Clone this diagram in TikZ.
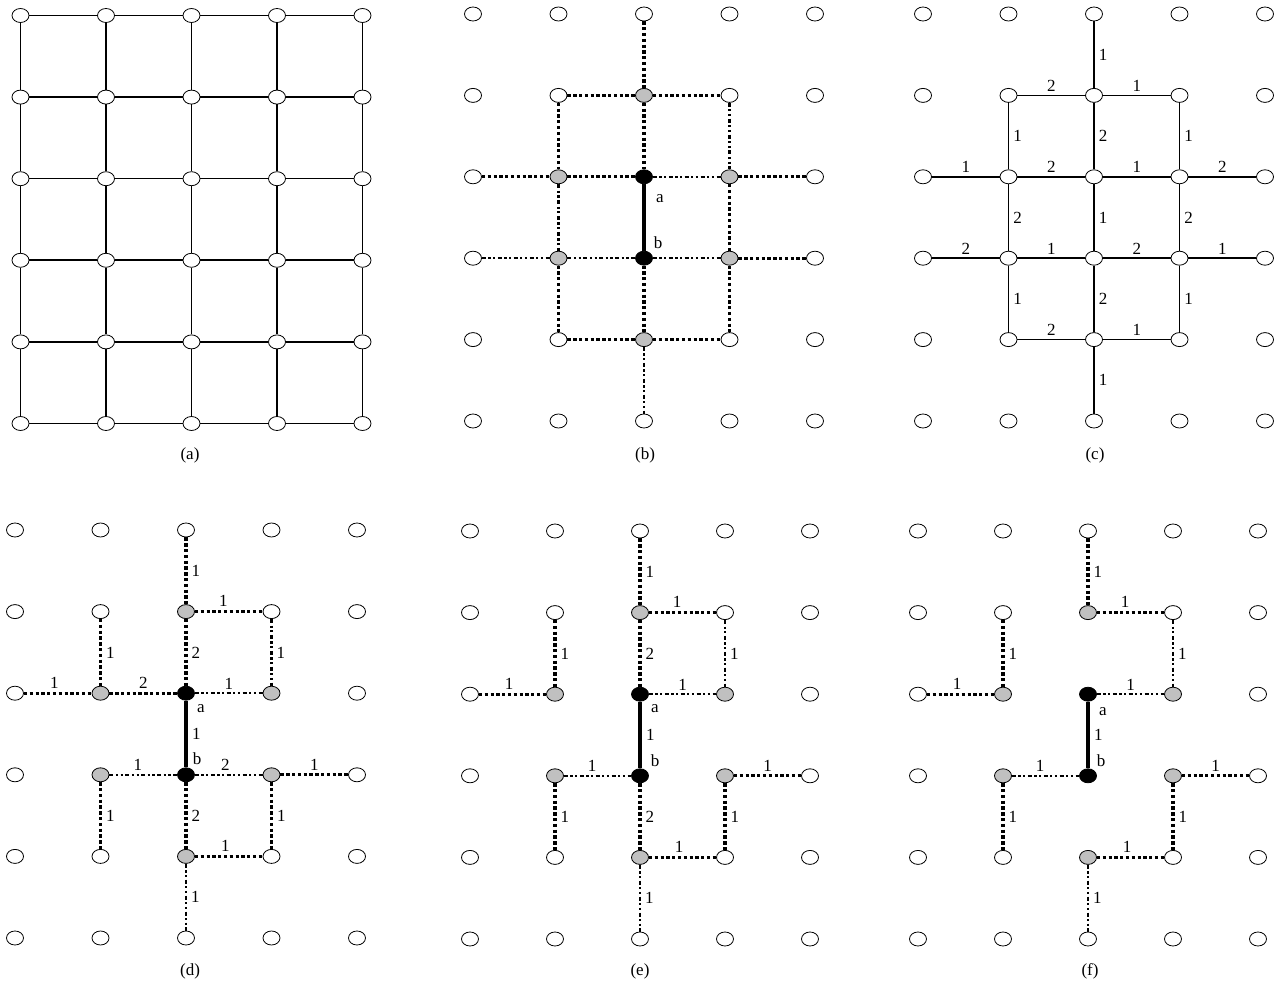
\documentclass[tikz,border=0pt]{standalone}
\usepackage{fontspec}
\setmainfont{Liberation Serif}
\usetikzlibrary{shapes.geometric,calc}
\definecolor{nodegray}{RGB}{192,192,192}
\tikzset{
  vtx/.style={ellipse, draw, line width=0.8pt, minimum width=17pt, minimum height=14pt, inner sep=0pt, fill=white},
  edge/.style={line width=1.6pt},
  thk/.style={line width=3.3pt, dash pattern=on 3.3pt off 2.5pt},
  thn/.style={line width=2.2pt, dash pattern=on 4pt off 2.5pt on 2.2pt off 2.5pt on 2.2pt off 2.5pt},
  ab/.style={line width=4pt},
  lbl/.style={font=\fontsize{17}{17}\selectfont, inner sep=1pt},
  hl/.style={lbl, midway, above=2pt},
  vl/.style={lbl, midway, right=3pt},
  gr/.style={fill=nodegray},
  bk/.style={fill=black},
  st-b-2-1/.style=gr, st-b-1-2/.style=gr, st-b-3-2/.style=gr, st-b-1-3/.style=gr, st-b-3-3/.style=gr, st-b-2-4/.style=gr,
  st-b-2-2/.style=bk, st-b-2-3/.style=bk,
  st-d-2-1/.style=gr, st-d-1-2/.style=gr, st-d-3-2/.style=gr, st-d-1-3/.style=gr, st-d-3-3/.style=gr, st-d-2-4/.style=gr,
  st-d-2-2/.style=bk, st-d-2-3/.style=bk,
  st-e-2-1/.style=gr, st-e-1-2/.style=gr, st-e-3-2/.style=gr, st-e-1-3/.style=gr, st-e-3-3/.style=gr, st-e-2-4/.style=gr,
  st-e-2-2/.style=bk, st-e-2-3/.style=bk,
  st-f-2-1/.style=gr, st-f-1-2/.style=gr, st-f-3-2/.style=gr, st-f-1-3/.style=gr, st-f-3-3/.style=gr, st-f-2-4/.style=gr,
  st-f-2-2/.style=bk, st-f-2-3/.style=bk,
}
\newcommand\mkgrid[5]{%
  \foreach \c in {0,...,4}{\foreach \r in {0,...,5}{%
    \node[vtx, st-#1-\c-\r/.try] (#1-\c-\r) at ({#2+\c*#4},{#3+\r*#5}) {};}}}
\begin{document}
\begin{tikzpicture}[x=1pt,y=-1pt]
\useasboundingbox (0,0) rectangle (1280,992);
% grids
\mkgrid{a}{20.5}{15.5}{85.5}{81.6}
\mkgrid{b}{473}{14}{85.5}{81.4}
\mkgrid{c}{923}{14}{85.5}{81.4}
\mkgrid{d}{15}{530}{85.5}{81.6}
\mkgrid{e}{470}{531}{85}{81.6}
\mkgrid{f}{918}{531}{85}{81.6}
% panel captions
\node[lbl] (capa) at (190,455) {(a)};
\node[lbl] (capb) at (645,455) {(b)};
\node[lbl] (capc) at (1095,455) {(c)};
\node[lbl] (capd) at (190,971) {(d)};
\node[lbl] (cape) at (640,971) {(e)};
\node[lbl] (capf) at (1090,971) {(f)};
% (a) full grid
\foreach \c in {0,...,4}{\foreach \r [count=\rn] in {0,...,4}{\draw[edge] (a-\c-\r) -- (a-\c-\rn);}}
\foreach \r in {0,...,5}{\foreach \c [count=\cn] in {0,...,3}{\draw[edge] (a-\c-\r) -- (a-\cn-\r);}}
% (b)
\draw[thk] (b-2-0) -- (b-2-1);
\draw[thk] (b-1-1) -- (b-2-1);
\draw[thk] (b-2-1) -- (b-3-1);
\draw[thk] (b-1-1) -- (b-1-2);
\draw[thk] (b-2-1) -- (b-2-2);
\draw[thn] (b-3-1) -- (b-3-2);
\draw[thk] (b-0-2) -- (b-1-2);
\draw[thk] (b-1-2) -- (b-2-2);
\draw[thn] (b-2-2) -- (b-3-2);
\draw[thk] (b-3-2) -- (b-4-2);
\draw[ab] (b-2-2) -- (b-2-3);
\draw[thn] (b-1-2) -- (b-1-3);
\draw[thk] (b-3-2) -- (b-3-3);
\draw[thn] (b-0-3) -- (b-1-3);
\draw[thn] (b-1-3) -- (b-2-3);
\draw[thn] (b-2-3) -- (b-3-3);
\draw[thk] (b-3-3) -- (b-4-3);
\draw[thk] (b-1-3) -- (b-1-4);
\draw[thk] (b-2-3) -- (b-2-4);
\draw[thk] (b-3-3) -- (b-3-4);
\draw[thk] (b-1-4) -- (b-2-4);
\draw[thk] (b-2-4) -- (b-3-4);
\draw[thn] (b-2-4) -- (b-2-5);
\node[lbl] (ba) at ($(b-2-2)+(16,22)$) {a};
\node[lbl] (bb) at ($(b-2-3)+(14,-16)$) {b};
% (c)
\draw[edge] (c-2-0) -- node[vl]{1} (c-2-1);
\draw[edge] (c-1-1) -- node[hl]{2} (c-2-1);
\draw[edge] (c-2-1) -- node[hl]{1} (c-3-1);
\draw[edge] (c-1-1) -- node[vl]{1} (c-1-2);
\draw[edge] (c-2-1) -- node[vl]{2} (c-2-2);
\draw[edge] (c-3-1) -- node[vl]{1} (c-3-2);
\draw[edge] (c-0-2) -- node[hl]{1} (c-1-2);
\draw[edge] (c-1-2) -- node[hl]{2} (c-2-2);
\draw[edge] (c-2-2) -- node[hl]{1} (c-3-2);
\draw[edge] (c-3-2) -- node[hl]{2} (c-4-2);
\draw[edge] (c-1-2) -- node[vl]{2} (c-1-3);
\draw[edge] (c-2-2) -- node[vl]{1} (c-2-3);
\draw[edge] (c-3-2) -- node[vl]{2} (c-3-3);
\draw[edge] (c-0-3) -- node[hl]{2} (c-1-3);
\draw[edge] (c-1-3) -- node[hl]{1} (c-2-3);
\draw[edge] (c-2-3) -- node[hl]{2} (c-3-3);
\draw[edge] (c-3-3) -- node[hl]{1} (c-4-3);
\draw[edge] (c-1-3) -- node[vl]{1} (c-1-4);
\draw[edge] (c-2-3) -- node[vl]{2} (c-2-4);
\draw[edge] (c-3-3) -- node[vl]{1} (c-3-4);
\draw[edge] (c-1-4) -- node[hl]{2} (c-2-4);
\draw[edge] (c-2-4) -- node[hl]{1} (c-3-4);
\draw[edge] (c-2-4) -- node[vl]{1} (c-2-5);
% (d)
\draw[thk] (d-2-0) -- node[vl]{1} (d-2-1);
\draw[thk] (d-2-1) -- node[hl,pos=.42]{1} (d-3-1);
\draw[thn] (d-3-1) -- node[vl]{1} (d-3-2);
\draw[thk] (d-1-1) -- node[vl]{1} (d-1-2);
\draw[thk] (d-2-1) -- node[vl]{2} (d-2-2);
\draw[thk] (d-0-2) -- node[hl,pos=.45]{1} (d-1-2);
\draw[thk] (d-1-2) -- node[hl]{2} (d-2-2);
\draw[thn] (d-2-2) -- node[hl]{1} (d-3-2);
\draw[ab] (d-2-2) -- node[vl]{1} (d-2-3);
\draw[thn] (d-1-3) -- node[hl,pos=.42]{1} (d-2-3);
\draw[thn] (d-2-3) -- node[hl,pos=.45]{2} (d-3-3);
\draw[thk] (d-3-3) -- node[hl]{1} (d-4-3);
\draw[thk] (d-1-3) -- node[vl]{1} (d-1-4);
\draw[thk] (d-2-3) -- node[vl]{2} (d-2-4);
\draw[thk] (d-3-3) -- node[vl]{1} (d-3-4);
\draw[thk] (d-2-4) -- node[hl,pos=.45]{1} (d-3-4);
\draw[thn] (d-2-4) -- node[vl]{1} (d-2-5);
\node[lbl] (da) at ($(d-2-2)+(15,15)$) {a};
\node[lbl] (db) at ($(d-2-3)+(11,-16)$) {b};
% (e)
\draw[thk] (e-2-0) -- node[vl]{1} (e-2-1);
\draw[thk] (e-2-1) -- node[hl,pos=.42]{1} (e-3-1);
\draw[thn] (e-3-1) -- node[vl]{1} (e-3-2);
\draw[thk] (e-1-1) -- node[vl]{1} (e-1-2);
\draw[thk] (e-2-1) -- node[vl]{2} (e-2-2);
\draw[thk] (e-0-2) -- node[hl,pos=.45]{1} (e-1-2);
\draw[thn] (e-2-2) -- node[hl]{1} (e-3-2);
\draw[ab] (e-2-2) -- node[vl]{1} (e-2-3);
\draw[thn] (e-1-3) -- node[hl,pos=.42]{1} (e-2-3);
\draw[thk] (e-3-3) -- node[hl]{1} (e-4-3);
\draw[thk] (e-1-3) -- node[vl]{1} (e-1-4);
\draw[thk] (e-2-3) -- node[vl]{2} (e-2-4);
\draw[thk] (e-3-3) -- node[vl]{1} (e-3-4);
\draw[thk] (e-2-4) -- node[hl,pos=.45]{1} (e-3-4);
\draw[thn] (e-2-4) -- node[vl]{1} (e-2-5);
\node[lbl] (ea) at ($(e-2-2)+(15,14)$) {a};
\node[lbl] (eb) at ($(e-2-3)+(15,-15)$) {b};
% (f)
\draw[thk] (f-2-0) -- node[vl]{1} (f-2-1);
\draw[thk] (f-2-1) -- node[hl,pos=.42]{1} (f-3-1);
\draw[thn] (f-3-1) -- node[vl]{1} (f-3-2);
\draw[thk] (f-1-1) -- node[vl]{1} (f-1-2);
\draw[thk] (f-0-2) -- node[hl,pos=.45]{1} (f-1-2);
\draw[thn] (f-2-2) -- node[hl]{1} (f-3-2);
\draw[ab] (f-2-2) -- node[vl]{1} (f-2-3);
\draw[thn] (f-1-3) -- node[hl,pos=.42]{1} (f-2-3);
\draw[thk] (f-3-3) -- node[hl]{1} (f-4-3);
\draw[thk] (f-1-3) -- node[vl]{1} (f-1-4);
\draw[thk] (f-3-3) -- node[vl]{1} (f-3-4);
\draw[thk] (f-2-4) -- node[hl,pos=.45]{1} (f-3-4);
\draw[thn] (f-2-4) -- node[vl]{1} (f-2-5);
\node[lbl] (fa) at ($(f-2-2)+(15,17)$) {a};
\node[lbl] (fb) at ($(f-2-3)+(13,-15)$) {b};
\end{tikzpicture}
\end{document}
